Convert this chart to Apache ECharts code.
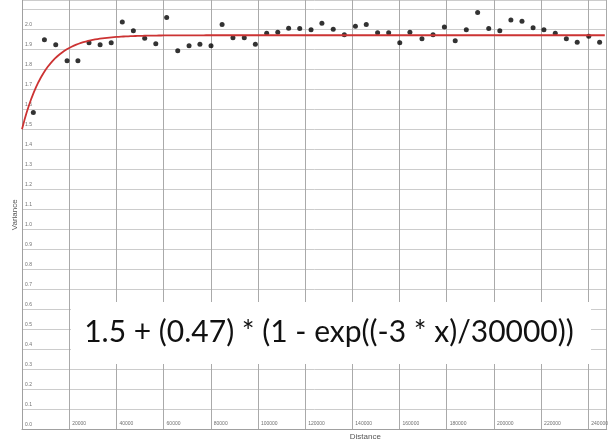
<!DOCTYPE html>
<html>
<head>
<meta charset="utf-8">
<script src="https://cdn.jsdelivr.net/npm/echarts@6/dist/echarts.min.js"></script>
<style>
  html, body { margin: 0; padding: 0; background: #fff; }
  #chart { width: 616px; height: 441px; }
</style>
</head>
<body>
<div id="chart"></div>
<script>
// Empirical semivariogram: lag distance vs. variance
const distance = [4800, 9500, 14300, 19100, 23700, 28400, 33100, 37800, 42500, 47200,
  52000, 56700, 61300, 66000, 70800, 75400, 80100, 84800, 89400, 94200,
  98900, 103700, 108400, 113000, 117700, 122500, 127100, 131900, 136600, 141300,
  145900, 150700, 155400, 160100, 164400, 169500, 174200, 179000, 183600, 188300,
  193100, 197800, 202500, 207200, 211900, 216600, 221200, 226000, 230700, 235300,
  240200, 244800];
const variance = [1.584, 1.948, 1.922, 1.842, 1.842, 1.933, 1.922, 1.933, 2.036, 1.993,
  1.955, 1.928, 2.058, 1.893, 1.918, 1.925, 1.918, 2.023, 1.958, 1.957,
  1.925, 1.980, 1.985, 2.005, 2.004, 1.997, 2.030, 2.000, 1.972, 2.015,
  2.023, 1.983, 1.982, 1.933, 1.985, 1.953, 1.972, 2.011, 1.942, 1.997,
  2.083, 2.004, 1.993, 2.046, 2.040, 2.008, 1.997, 1.980, 1.953, 1.935,
  1.965, 1.935];

// Exponential model: nugget + sill * (1 - exp((-3 * x) / range))
const nugget = 1.5;
const partialSill = 0.47;
const modelRange = 30000;
const modelLabel = '1.5 + (0.47) * (1 - exp((-3 * x)/30000))';

const xMax = 247800;
const yMax = 2.146;

const points = distance.map((d, i) => [d, variance[i]]);
const curve = [];
for (let x = 0; x <= xMax; x += 1000) {
  curve.push([x, nugget + partialSill * (1 - Math.exp((-3 * x) / modelRange))]);
}

const chart = echarts.init(document.getElementById('chart'), null, { renderer: 'canvas' });
chart.setOption({
  animation: false,
  backgroundColor: '#ffffff',
  grid: { left: 22, right: 9.3, top: 0, bottom: 11.4, containLabel: false, outerBoundsMode: 'none' },
  xAxis: {
    type: 'value', min: 0, max: xMax, interval: 20000,
    name: 'Distance', nameLocation: 'middle', nameGap: 3, nameMoveOverlap: false,
    nameTextStyle: { fontFamily: 'Liberation Sans', fontSize: 8, color: '#555', padding: [0, 0, 0, 102] },
    axisLine: { show: true, lineStyle: { color: '#a0a0a0', width: 1 } },
    axisTick: { show: false },
    axisLabel: {
      inside: true, margin: 3, showMinLabel: false, showMaxLabel: false,
      align: 'left', padding: [0, 0, 0, 3],
      fontFamily: 'Liberation Sans', fontSize: 5, color: '#707070',
      formatter: v => String(v)
    },
    splitLine: { show: true, lineStyle: { color: '#aaaaaa', width: 1 } }
  },
  yAxis: {
    type: 'value', min: 0, max: yMax, interval: 0.1,
    name: 'Variance', nameLocation: 'middle', nameGap: 3, nameMoveOverlap: false,
    nameTextStyle: { fontFamily: 'Liberation Sans', fontSize: 8, color: '#555' },
    axisLine: { show: true, lineStyle: { color: '#a0a0a0', width: 1 } },
    axisTick: { show: false },
    axisLabel: {
      inside: true, margin: 3, verticalAlign: 'bottom', padding: [0, 0, 2, 0],
      fontFamily: 'Liberation Sans', fontSize: 5, color: '#707070',
      formatter: v => (v > 2.05 ? '' : v.toFixed(1))
    },
    splitLine: { show: true, lineStyle: { color: '#cccccc', width: 1 } }
  },
  series: [
    {
      type: 'scatter', data: points, symbol: 'circle', symbolSize: 5,
      itemStyle: { color: '#000000' }, z: 2
    },
    {
      type: 'line', data: curve, showSymbol: false, smooth: false,
      lineStyle: { color: '#cc3333', width: 1.8 }, z: 3
    }
  ],
  graphic: [
    {
      type: 'rect', z: 10,
      shape: { x: 71, y: 302, width: 520, height: 62 },
      style: { fill: '#ffffff' }
    },
    {
      type: 'text', z: 11, x: 329, y: 332,
      style: {
        text: modelLabel, fontFamily: 'Lato', fontSize: 30, fill: '#111',
        align: 'center', verticalAlign: 'middle'
      }
    }
  ]
});
</script>
</body>
</html>
